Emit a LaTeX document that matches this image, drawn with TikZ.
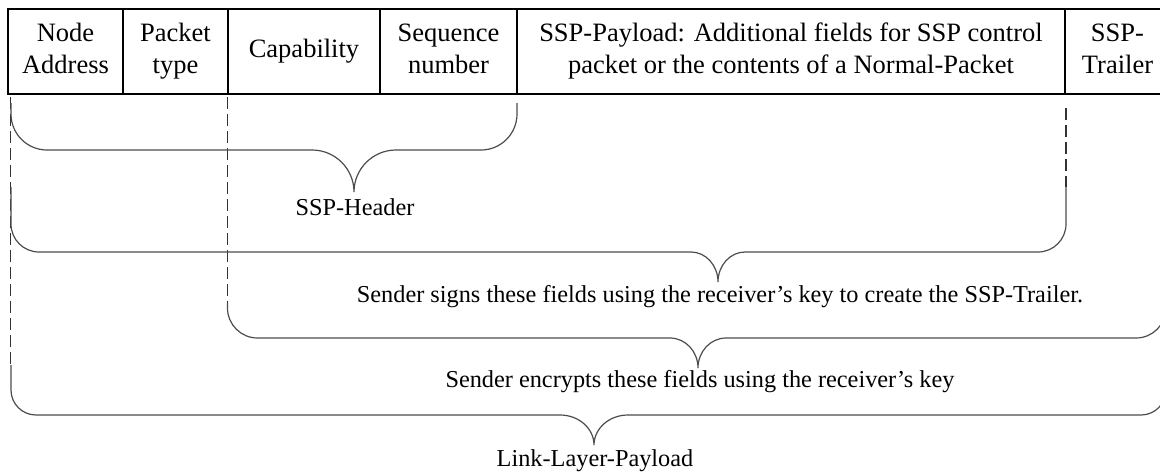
\documentclass[tikz,border=0pt]{standalone}
\usepackage{fontspec}
\setmainfont{Liberation Serif}
\tikzset{
  cell/.style={draw=black, line width=2pt, inner sep=0pt, outer sep=0pt,
    minimum height=85pt, align=center, font=\fontsize{26.5}{32}\selectfont},
  lbl/.style={anchor=base, inner sep=0pt, font=\fontsize{24.3}{28}\selectfont},
  bracestyle/.style={draw=black!70, line width=1.2pt},
  guide/.style={draw=black!80, line width=1.2pt, dash pattern=on 12pt off 5pt}
}
% L R T H r X d w
\newcommand\ssbrace[8]{%
\draw[bracestyle] (#1,#3) -- (#1,{#4-#5})
  .. controls (#1,{#4-0.448*#5}) and ({#1+0.448*#5},#4) .. ({#1+#5},#4)
  -- ({#6-#8},#4)
  .. controls ({#6-0.448*#8},#4) and (#6,{#4+0.448*#7}) .. (#6,{#4+#7})
  .. controls (#6,{#4+0.448*#7}) and ({#6+0.448*#8},#4) .. ({#6+#8},#4)
  -- ({#2-#5},#4)
  .. controls ({#2-0.448*#5},#4) and (#2,{#4-0.448*#5}) .. (#2,{#4-#5})
  -- (#2,#3);}
\begin{document}
\begin{tikzpicture}[x=1pt,y=-1pt]
\useasboundingbox (0,0) rectangle (1160,472);
\clip (0,0) rectangle (1160,472);
% cells
\node[cell, minimum width=115pt] (addr) at (65.5,51.5) {\strut Node\\\strut Address};
\node[cell, minimum width=105pt] (ptype) at (175.5,51.5) {\strut Packet\\\strut type};
\node[cell, minimum width=152pt] (cap) at (304,51.5) {\strut Capability};
\node[cell, minimum width=137pt] (seq) at (448.5,51.5) {\strut Sequence\\\strut number};
\node[cell, minimum width=548pt] (payload) at (791,51.5) {\strut SSP-Payload: Additional fields for SSP control\\\strut packet or the contents of a Normal-Packet};
\node[cell, minimum width=105pt] (trailer) at (1117.5,51.5) {\strut SSP-\\\strut Trailer};
% dashed guides
\coordinate (g1a) at (10.5,97);  \coordinate (g1b) at (10.5,365);
\coordinate (g2a) at (227.5,97); \coordinate (g2b) at (227.5,303);
\coordinate (g3a) at (1066,108); \coordinate (g3b) at (1066,187);
\draw[guide] (g1a) -- (g1b);
\draw[guide] (g2a) -- (g2b);
\draw[guide] (g3a) -- (g3b);
% braces
\ssbrace{11}{517}{103}{150}{36}{354}{42}{42}
\ssbrace{11}{1066}{187}{252}{28}{718}{30}{27}
\ssbrace{227.5}{1166}{303}{338}{30}{698}{30}{28}
\ssbrace{11}{1166}{365}{415}{25}{594}{30}{34}
% labels
\node[lbl] (hdr) at (355,215) {SSP-Header};
\node[lbl] (sign) at (720,302) {Sender signs these fields using the receiver’s key to create the SSP-Trailer.};
\node[lbl] (enc) at (700,387) {Sender encrypts these fields using the receiver’s key};
\node[lbl] (llp) at (595,466) {Link-Layer-Payload};
\end{tikzpicture}
\end{document}
